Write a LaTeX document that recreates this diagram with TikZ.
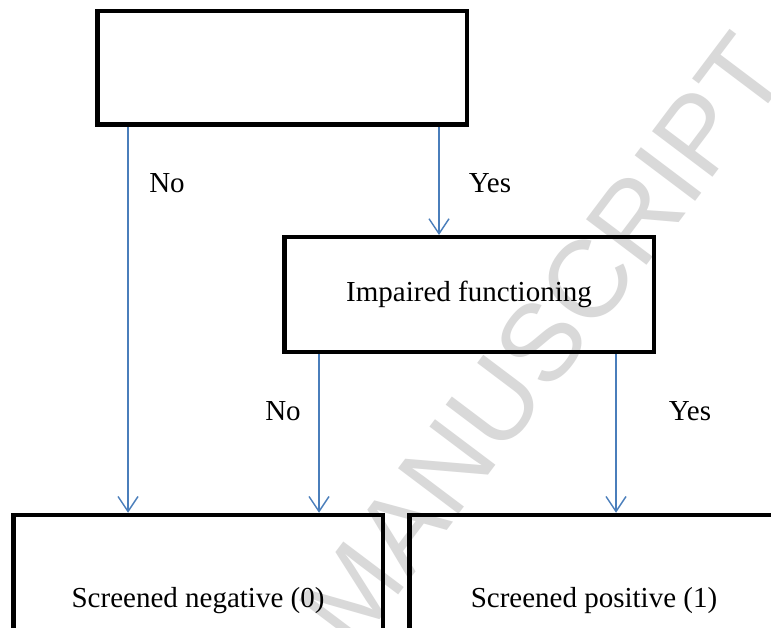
\documentclass[tikz,border=0pt]{standalone}
\usepackage{fontspec}
\setmainfont{Liberation Serif}
\newfontfamily\wmfont{Liberation Sans}
\usetikzlibrary{arrows.meta}
\definecolor{arrblue}{RGB}{74,126,187}
\definecolor{wmgray}{RGB}{217,217,217}
\tikzset{
  flowbox/.style={draw=black, line width=4.5pt, minimum width=369.5pt, inner sep=0pt, font=\fontsize{29}{34}\selectfont},
  arr/.style={draw=arrblue, line width=1.4pt, -{Straight Barb[length=15pt, width=20pt, line width=1.4pt]}},
  lbl/.style={font=\fontsize{29}{34}\selectfont, inner sep=0pt}
}
\begin{document}
\begin{tikzpicture}[x=1pt, y=-1pt]
\useasboundingbox (0,0) rectangle (771,628);
\clip (0,0) rectangle (771,628);
\fill[white] (0,0) rectangle (771,628);
% watermark
\node[rotate=53, text=wmgray, inner sep=0pt, font=\wmfont\fontsize{110}{110}\selectfont] (wm) at (543,340) {MANUSCRIPT};
% boxes
\node[flowbox, minimum height=113.5pt] (top) at (282,68) {};
\node[flowbox, minimum height=114.5pt] (imp) at (469,294.5) {Impaired functioning};
\node[flowbox, minimum height=172pt] (neg) at (198,601) {Screened negative (0)};
\node[flowbox, minimum height=172pt] (pos) at (594,601) {Screened positive (1)};
% x positions of connectors
\coordinate (x1) at (128,0);
\coordinate (x2) at (439,0);
\coordinate (x3) at (319,0);
\coordinate (x4) at (616,0);
\draw[arr] (x1 |- top.south) -- (x1 |- neg.north);
\draw[arr] (x2 |- top.south) -- (x2 |- imp.north);
\draw[arr] (x3 |- imp.south) -- (x3 |- neg.north);
\draw[arr] (x4 |- imp.south) -- (x4 |- pos.north);
% labels
\node[lbl] (l1) at (167,183) {No};
\node[lbl] (l2) at (490,183) {Yes};
\node[lbl] (l3) at (283,411) {No};
\node[lbl] (l4) at (690,411) {Yes};
\end{tikzpicture}
\end{document}
